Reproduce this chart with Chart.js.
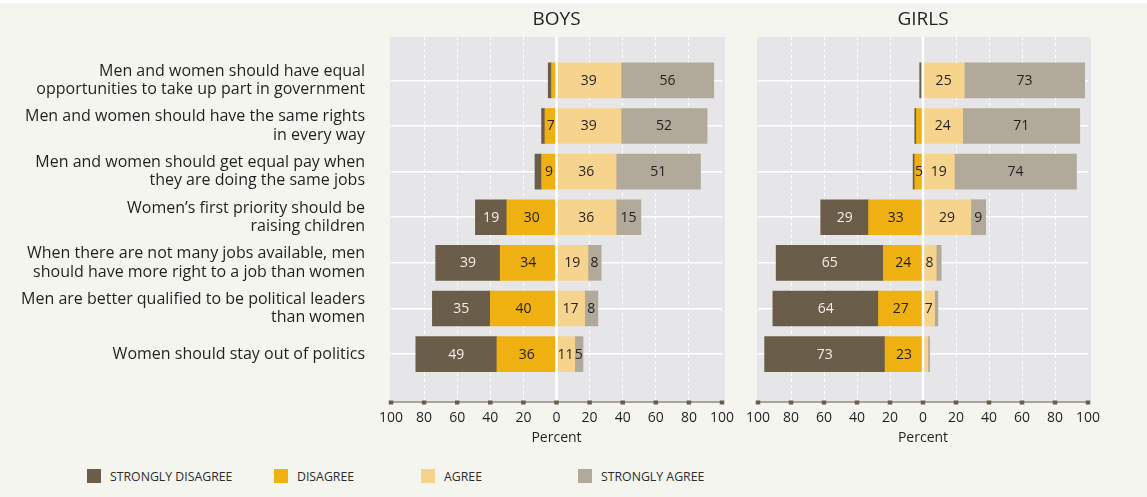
<!DOCTYPE html>
<html lang="en">
<head>
<meta charset="utf-8">
<title>Attitudes towards gender equality</title>
<script src="https://cdn.jsdelivr.net/npm/chart.js@4.4.0/dist/chart.umd.min.js"></script>
<style>
    html, body { margin: 0; padding: 0; }
    body { width: 1147px; height: 497px; background: #f5f5f0; position: relative; overflow: hidden; font-family: "Open Sans", sans-serif; }
    .topline { position: absolute; left: 0; top: 0; width: 1147px; height: 3px; background: #ffffff; }
    .panel { position: absolute; top: 0; height: 450px; }
    #boysBox { left: 0; width: 745px; }
    #girlsBox { left: 738px; width: 409px; }
    .legend-item { position: absolute; top: 469px; height: 14px; display: flex; align-items: center; font-size: 12.3px; color: #2b2b2b; white-space: nowrap; }
    .legend-item span.sw { width: 14px; height: 14px; margin-right: 9px; display: inline-block; }
</style>
</head>
<body>
<div class="topline"></div>
<div class="panel" id="boysBox"><canvas id="boys"></canvas></div>
<div class="panel" id="girlsBox"><canvas id="girls"></canvas></div>
<div id="legend"></div>

<script>
// statements, top to bottom
const statements = [
    ['Men and women should have equal', 'opportunities to take up part in government'],
    ['Men and women should have the same rights', 'in every way'],
    ['Men and women should get equal pay when', 'they are doing the same jobs'],
    ['Women\u2019s first priority should be', 'raising children'],
    ['When there are not many jobs available, men', 'should have more right to a job than women'],
    ['Men are better qualified to be political leaders', 'than women'],
    'Women should stay out of politics'
];

const seriesNames = ['STRONGLY DISAGREE', 'DISAGREE', 'AGREE', 'STRONGLY AGREE'];

// percent of respondents
const boysStronglyDisagree = [2, 2, 4, 19, 39, 35, 49];
const boysDisagree = [3, 7, 9, 30, 34, 40, 36];
const boysAgree = [39, 39, 36, 36, 19, 17, 11];
const boysStronglyAgree = [56, 52, 51, 15, 8, 8, 5];

const girlsStronglyDisagree = [1, 1, 1, 29, 65, 64, 73];
const girlsDisagree = [1, 4, 5, 33, 24, 27, 23];
const girlsAgree = [25, 24, 19, 29, 8, 7, 3];
const girlsStronglyAgree = [73, 71, 74, 9, 3, 2, 1];

const xTicks = [-100, -80, -60, -40, -20, 0, 20, 40, 60, 80, 100];

const COLORS = ['#6a5d4a', '#efb112', '#f7d48e', '#b1a999'];
const TEXT = '#231f20';
const LEGEND_X = [87, 274, 421, 578];

// grey plot panel, axis tick squares and the white zero line
const panelPlugin = {
    id: 'panel',
    beforeDraw(chart) {
        const { ctx, chartArea: a } = chart;
        ctx.save();
        ctx.fillStyle = '#e6e6e8';
        ctx.fillRect(a.left - 1, a.top, a.right - a.left + 4, a.bottom - a.top - 1);
        ctx.restore();
    },
    afterDatasetsDraw(chart) {
        const { ctx, chartArea: a, scales: { x } } = chart;
        const zx = x.getPixelForValue(0);
        ctx.save();
        ctx.strokeStyle = '#ffffff';
        ctx.lineWidth = 2.5;
        ctx.beginPath();
        ctx.moveTo(zx, a.top);
        ctx.lineTo(zx, a.bottom);
        ctx.stroke();

        // bar values
        ctx.font = '14px "Open Sans"';
        ctx.textAlign = 'center';
        ctx.textBaseline = 'middle';
        chart.data.datasets.forEach((ds, i) => {
            const meta = chart.getDatasetMeta(i);
            meta.data.forEach((bar, j) => {
                const v = Math.abs(ds.data[j].x);
                if (v < 5) return;
                const p = bar.getProps(['x', 'y', 'base'], true);
                ctx.fillStyle = ds.labelColor;
                ctx.fillText(String(v), (p.x + p.base) / 2, p.y + 0.5);
            });
        });
        ctx.restore();
    },
    afterDraw(chart) {
        const { ctx, chartArea: a, scales: { x } } = chart;
        ctx.save();
        ctx.fillStyle = COLORS[0];
        x.ticks.forEach(t => {
            const px = x.getPixelForValue(t.value);
            ctx.fillRect(px - 2.25, a.bottom - 1.5, 4.5, 4);
        });
        ctx.restore();
    }
};

function makeDatasets(sd, d, a, sa) {
    const toPts = (vals, sign) => vals.map((v, i) => ({ x: sign * v, y: i }));
    return [
        { label: seriesNames[1], data: toPts(d, -1), backgroundColor: COLORS[1], labelColor: TEXT },
        { label: seriesNames[0], data: toPts(sd, -1), backgroundColor: COLORS[0], labelColor: '#f3efe6' },
        { label: seriesNames[2], data: toPts(a, 1), backgroundColor: COLORS[2], labelColor: TEXT },
        { label: seriesNames[3], data: toPts(sa, 1), backgroundColor: COLORS[3], labelColor: TEXT }
    ];
}

function makeChart(canvasId, title, datasets, showLabels, yWidth, padRight) {
    return new Chart(document.getElementById(canvasId), {
        type: 'bar',
        data: { datasets: datasets },
        plugins: [panelPlugin],
        options: {
            indexAxis: 'y',
            responsive: true,
            maintainAspectRatio: false,
            animation: false,
            layout: { padding: { left: 0, right: padRight, top: 0, bottom: 0 } },
            datasets: { bar: { barThickness: 35, borderWidth: 0 } },
            plugins: {
                legend: { display: false },
                tooltip: { enabled: false },
                title: {
                    display: true,
                    text: title,
                    fullSize: false,
                    color: TEXT,
                    font: { family: '"Open Sans"', size: 19, weight: 'normal' },
                    padding: { top: 8.6, bottom: 5.6 }
                }
            },
            scales: {
                x: {
                    stacked: true,
                    min: -100,
                    max: 100,
                    afterBuildTicks: s => { s.ticks = xTicks.map(v => ({ value: v })); },
                    afterFit: s => { s.height = 48; },
                    ticks: {
                        callback: v => Math.abs(v),
                        color: TEXT,
                        padding: 8,
                        maxRotation: 0,
                        autoSkip: false,
                        font: { family: '"Open Sans"', size: 14 }
                    },
                    grid: {
                        drawTicks: false,
                        color: '#ffffff',
                        lineWidth: c => (c.tick && Math.abs(c.tick.value) < 100 && c.tick.value !== 0) ? 1 : 0
                    },
                    border: {
                        display: true,
                        color: '#aaa397',
                        width: 2,
                        dash: c => (c.tick ? [3, 3] : [])
                    },
                    title: {
                        display: true,
                        text: 'Percent',
                        color: TEXT,
                        font: { family: '"Open Sans"', size: 14 },
                        padding: { top: 4, bottom: 4 }
                    }
                },
                y: {
                    type: 'linear',
                    stacked: true,
                    reverse: true,
                    offset: false,
                    min: -0.95,
                    max: 7.05,
                    afterBuildTicks: s => { s.ticks = statements.map((_, i) => ({ value: i })); },
                    afterFit: s => { s.width = yWidth; },
                    ticks: {
                        display: showLabels,
                        callback: v => statements[v],
                        color: TEXT,
                        padding: 26,
                        autoSkip: false,
                        font: { family: '"Open Sans"', size: 16, lineHeight: 1.15 }
                    },
                    grid: { offset: false, drawTicks: false, color: '#ffffff', lineWidth: 1.5 },
                    border: { display: false }
                }
            }
        }
    });
}

makeChart('boys', 'BOYS', makeDatasets(boysStronglyDisagree, boysDisagree, boysAgree, boysStronglyAgree), true, 391, 23);
makeChart('girls', 'GIRLS', makeDatasets(girlsStronglyDisagree, girlsDisagree, girlsAgree, girlsStronglyAgree), false, 20, 59);

// legend
const legend = document.getElementById('legend');
seriesNames.forEach((name, i) => {
    const item = document.createElement('div');
    item.className = 'legend-item';
    item.style.left = LEGEND_X[i] + 'px';
    item.innerHTML = '<span class="sw" style="background:' + COLORS[i] + '"></span>' + name;
    legend.appendChild(item);
});
</script>
</body>
</html>
